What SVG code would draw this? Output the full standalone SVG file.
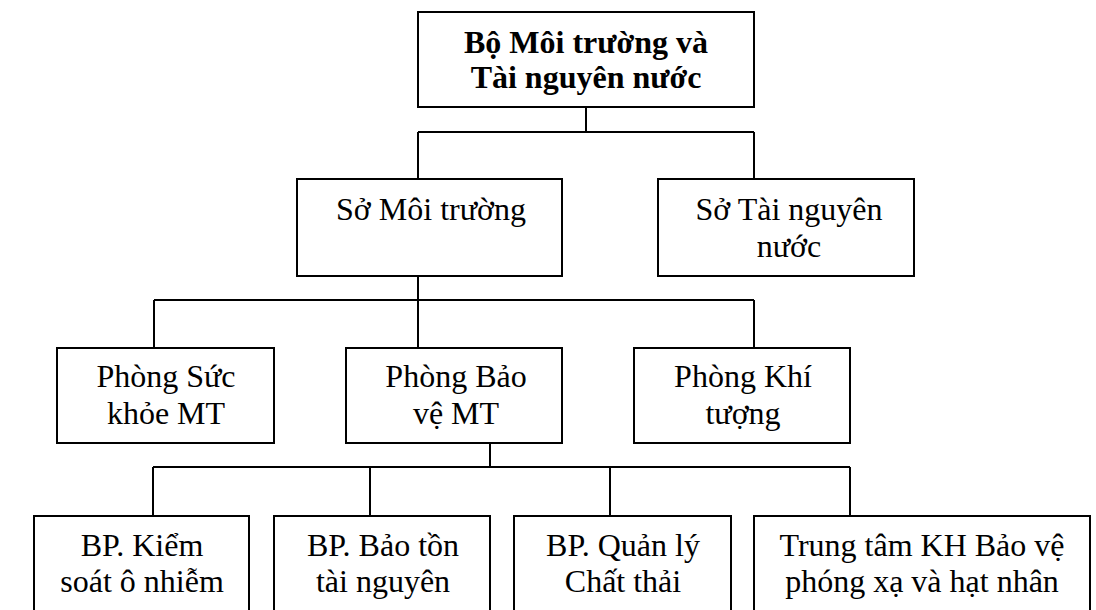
<svg xmlns="http://www.w3.org/2000/svg" width="1096" height="610" viewBox="0 0 1096 610">
<style>
.box{fill:#fff;stroke:#000;stroke-width:2}
.ln{fill:none;stroke:#000;stroke-width:2}
.t{font-family:'Liberation Serif','DejaVu Serif',serif;font-size:32px;fill:#000;text-anchor:middle}
.b{font-weight:bold}
</style>
<rect width="1096" height="610" fill="#fff"/>
<g id="connectors">
<path class="ln" d="M586,107V132M418,132H754M418,132V179M754,132V179"/>
<path class="ln" d="M418,276V300M154,300H754M154,300V348M418,300V348M754,300V348"/>
<path class="ln" d="M490,443V467M153,467H850M153,467V516M370,467V516M610,467V516M850,467V516"/>
</g>
<g id="bo"><rect class="box" x="418" y="12" width="336" height="95"/><text class="t b" x="586" y="53" font-family="Liberation Serif">Bộ Môi trường và</text><text class="t b" x="586" y="88" font-family="Liberation Serif">Tài nguyên nước</text></g>
<g id="so-mt"><rect class="box" x="297" y="179" width="265" height="97"/><text class="t" x="431" y="220" font-family="Liberation Serif">Sở Môi trường</text></g>
<g id="so-tn"><rect class="box" x="658" y="179" width="256" height="97"/><text class="t" x="789" y="220" font-family="Liberation Serif">Sở Tài nguyên</text><text class="t" x="789" y="257" font-family="Liberation Serif">nước</text></g>
<g id="p-sk"><rect class="box" x="57" y="348" width="217" height="95"/><text class="t" x="166" y="387" font-family="Liberation Serif">Phòng Sức</text><text class="t" x="166" y="424" font-family="Liberation Serif">khỏe MT</text></g>
<g id="p-bv"><rect class="box" x="346" y="348" width="216" height="95"/><text class="t" x="456" y="387" font-family="Liberation Serif">Phòng Bảo</text><text class="t" x="456" y="424" font-family="Liberation Serif">vệ MT</text></g>
<g id="p-kt"><rect class="box" x="634" y="348" width="216" height="95"/><text class="t" x="743" y="387" font-family="Liberation Serif">Phòng Khí</text><text class="t" x="743" y="424" font-family="Liberation Serif">tượng</text></g>
<g id="bp-ks"><rect class="box" x="34" y="516" width="215" height="110"/><text class="t" x="142" y="556" font-family="Liberation Serif">BP. Kiểm</text><text class="t" x="142" y="592" font-family="Liberation Serif">soát ô nhiễm</text></g>
<g id="bp-bt"><rect class="box" x="274" y="516" width="216" height="110"/><text class="t" x="383" y="556" font-family="Liberation Serif">BP. Bảo tồn</text><text class="t" x="383" y="592" font-family="Liberation Serif">tài nguyên</text></g>
<g id="bp-ql"><rect class="box" x="514" y="516" width="217" height="110"/><text class="t" x="623" y="556" font-family="Liberation Serif">BP. Quản lý</text><text class="t" x="623" y="592" font-family="Liberation Serif">Chất thải</text></g>
<g id="tt"><rect class="box" x="754" y="516" width="336" height="110"/><text class="t" x="922" y="556" font-family="Liberation Serif">Trung tâm KH Bảo vệ</text><text class="t" x="922" y="592" font-family="Liberation Serif">phóng xạ và hạt nhân</text></g>
</svg>
